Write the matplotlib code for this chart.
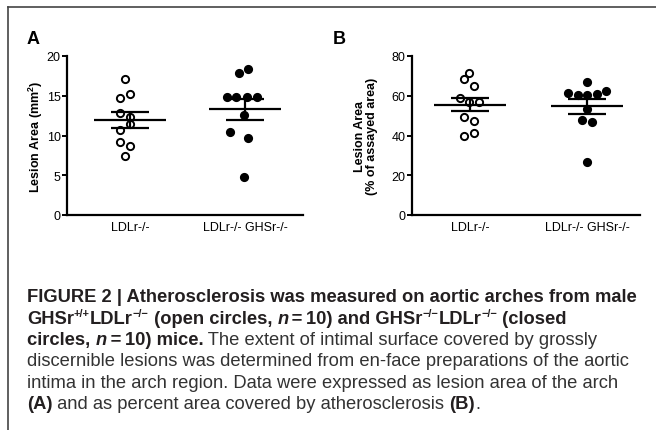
import numpy as np
import matplotlib
matplotlib.use("Agg")
import matplotlib.pyplot as plt

plt.rcParams['font.family'] = ['Liberation Sans', 'DejaVu Sans']

groups = ['LDLr-/-', 'LDLr-/- GHSr-/-']

# panel A, lesion area (mm2)
area_ko = [17.1, 15.25, 14.75, 12.85, 12.3, 11.4, 10.7, 9.15, 8.7, 7.4]
area_dko = [17.85, 18.35, 14.85, 14.85, 14.85, 14.85, 12.6, 10.4, 9.65, 4.75]

# panel B, % of assayed area
pct_ko = [71.6, 68.5, 64.9, 59.1, 56.8, 56.8, 49.2, 47.5, 41.2, 40.0]
pct_dko = [66.9, 61.5, 60.5, 60.5, 61.0, 62.5, 53.4, 47.7, 47.0, 26.6]

# horizontal scatter of the dots (pixels)
jit_a1 = [-5, 0, -10, -10, 0, 0, -10, -10, 0, -5]
jit_a2 = [-6, 3, -18, -9, 2, 12, -1, -15, 3, -1]
jit_b1 = [-1, -6, 4, -10, -1, 9, -6, 4, 4, -6]
jit_b2 = [0, -19, -9, 0, 10, 19, 0, -5, 5, 0]

W, H = 656, 431
fig = plt.figure(figsize=(W/100, H/100), dpi=100)
rend = fig.canvas.get_renderer()

# frame lines on top and left
fig.add_artist(plt.Line2D([8/W, 1], [1-8/H, 1-8/H], color='#444444', lw=1.2))
fig.add_artist(plt.Line2D([8/W, 8/W], [0, 1-8/H], color='#444444', lw=1.2))


def panel(rect, xlim, pxu, d1, d2, j1, j2, ymax, ystep, ylabel, labx):
    ax = fig.add_axes(rect)
    for i, (d, j, filled) in enumerate([(d1, j1, False), (d2, j2, True)]):
        d = np.array(d)
        xs = i + np.array(j) / pxu
        ax.plot(xs, d, 'o', ms=5.2, mew=1.4, mec='black',
                mfc='black' if filled else 'white', zorder=2, clip_on=False)
        m = d.mean()
        s = d.std(ddof=1) / np.sqrt(len(d))
        ax.hlines(m, i - 0.31, i + 0.31, color='black', lw=1.6, zorder=3)
        ax.hlines([m - s, m + s], i - 0.165, i + 0.165, color='black', lw=1.6, zorder=3)
        ax.vlines(i, m - s, m + s, color='black', lw=1.6, zorder=3)
    ax.set_xlim(*xlim)
    ax.set_ylim(0, ymax)
    ax.set_yticks(np.arange(0, ymax + 1, ystep))
    ax.set_xticks([0, 1])
    ax.set_xticklabels(groups, fontsize=9)
    ax.tick_params(axis='x', length=0, pad=4)
    ax.tick_params(axis='y', length=3.5, width=1.4, labelsize=9, pad=1)
    for sp in ['top', 'right']:
        ax.spines[sp].set_visible(False)
    for sp in ['left', 'bottom']:
        ax.spines[sp].set_linewidth(1.6)
    ax.set_ylabel(ylabel, fontsize=9, fontweight='bold', linespacing=1.0)
    ax.yaxis.set_label_coords(labx, 0.5)
    return ax


axA = panel([67/W, 1-216/H, 236/W, 159/H], (-0.548, 1.504), 115,
            area_ko, area_dko, jit_a1, jit_a2, 20, 5,
            'Lesion Area (mm$^{\\mathregular{2}}$)', -0.095)
axB = panel([412/W, 1-216/H, 228/W, 159/H], (-0.496, 1.453), 117,
            pct_ko, pct_dko, jit_b1, jit_b2, 80, 20,
            'Lesion Area\n(% of assayed area)', -0.15)

fig.text(27/W, 1-39/H, 'A', fontsize=13, fontweight='bold', va='center')
fig.text(333/W, 1-39/H, 'B', fontsize=13, fontweight='bold', va='center')

# caption, written piece by piece so bold, italic and superscripts can mix
fs = 13.2
dark = '#231f20'
B = dict(fontweight='bold')
I = dict(fontweight='bold', fontstyle='italic')
R = dict(color='#333333')
S = dict(fontweight='bold', sup=True)

lines = [
    [('FIGURE 2 | Atherosclerosis was measured on aortic arches from male', B)],
    [('GHSr', B), ('+/+', S), ('LDLr', B), ('\u2212/\u2212', S), (' (open circles, ', B),
     ('n', I), ('\u2009=\u200910) and GHSr', B), ('\u2212/\u2212', S), ('LDLr', B),
     ('\u2212/\u2212', S), (' (closed', B)],
    [('circles, ', B), ('n', I), ('\u2009=\u200910) mice.', B),
     (' The extent of intimal surface covered by grossly', R)],
    [('discernible lesions was determined from en-face preparations of the aortic', R)],
    [('intima in the arch region. Data were expressed as lesion area of the arch', R)],
    [('(A)', B), (' and as percent area covered by atherosclerosis ', R), ('(B)', B), ('.', R)],
]
baselines = [302, 323.5, 345, 366.5, 388, 409.5]

for parts, yb in zip(lines, baselines):
    x = 27.0
    for txt, kw in parts:
        kw = dict(kw)
        sup = kw.pop('sup', False)
        col = kw.pop('color', dark)
        size = fs * 0.6 if sup else fs
        y = yb - (fs * 0.5 if sup else 0)
        t = fig.text(x / W, 1 - y / H, txt, fontsize=size, va='baseline',
                     color=col, **kw)
        x = t.get_window_extent(rend).x1

fig.savefig('out.png', dpi=100)
